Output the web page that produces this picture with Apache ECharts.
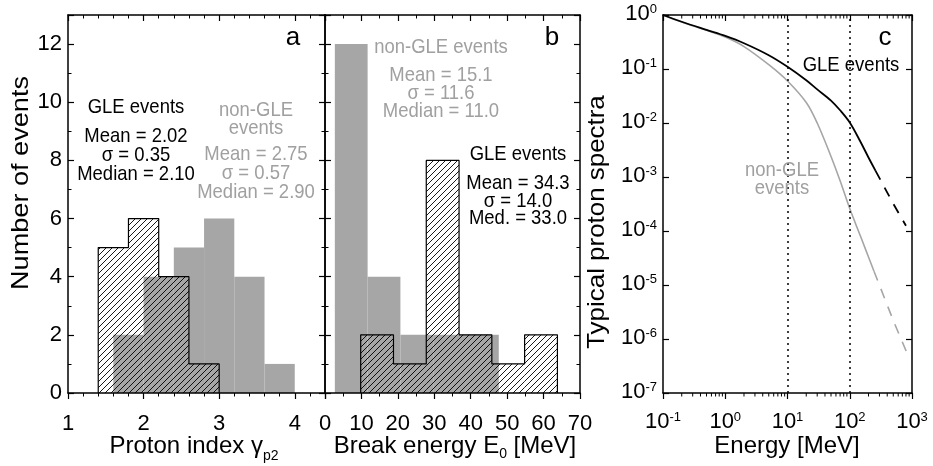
<!DOCTYPE html>
<html><head><meta charset="utf-8">
<script src="https://cdn.jsdelivr.net/npm/echarts@6/dist/echarts.min.js"></script>
<style>html,body{margin:0;padding:0;background:#fff}#c{width:933px;height:466px}</style>
</head><body><div id="c"></div>
<script>
// ---------- data ----------
// panel a: proton index histogram (bin edges + counts)
const aGleEdges = [1.4, 1.8, 2.2, 2.6, 3.0];
const aGleCounts = [5, 6, 4, 1];
const aNonEdges = [1.6, 2.0, 2.4, 2.8, 3.2, 3.6, 4.0, 4.4];
const aNonCounts = [2, 4, 5, 6, 4, 1, 0];
// panel b: break energy histogram
const bNonEdges = [2.7, 11.7, 20.7, 29.7, 38.7, 47.7];
const bNonCounts = [12, 4, 2, 2, 2];
const bGleEdges = [9.8, 18.8, 27.8, 36.8, 45.8, 54.8, 63.8];
const bGleCounts = [2, 1, 8, 2, 1, 2];
// panel c: typical spectra
const energyGle = [0.1, 0.2, 0.5, 1, 2, 5, 10, 20, 30, 50, 70, 100, 150, 200, 260];
const spectrumGle = [1.0, 0.75, 0.53, 0.41, 0.30, 0.18, 0.11, 0.062, 0.042, 0.026, 0.0172, 0.0102, 0.0044, 0.0023, 0.0013];
const energyGleExt = [260, 500, 800];
const spectrumGleExt = [0.0013, 0.00032, 0.000125];
const energyNon = [0.1, 0.2, 0.5, 1, 2, 5, 10, 20, 30, 50, 70, 100, 150, 200, 245];
const spectrumNon = [1.0, 0.74, 0.52, 0.39, 0.26, 0.12, 0.06, 0.024, 0.010, 0.0024, 0.00085, 0.00026, 0.000078, 0.000033, 0.000018];
const energyNonExt = [245, 500, 880];
const spectrumNonExt = [0.000018, 0.0000022, 0.00000047];
const markEnergies = [10, 100];
// axis tick labels
const aTickLabels = [1, 2, 3, 4];
const bTickLabels = [0, 10, 20, 30, 40, 50, 60, 70];
const countTickLabels = [0, 2, 4, 6, 8, 10, 12];

// ---------- helpers ----------
const FONT = 'Liberation Sans, Arial, sans-serif';
const GRAY = '#a6a6a6';
const GRAYTXT = '#a0a0a0';

function bins(edges, counts) { return counts.map((c, i) => [edges[i], edges[i + 1], c]); }
function outline(edges, counts) {
  const pts = [[edges[0], 0]];
  counts.forEach((c, i) => { pts.push([edges[i], c]); pts.push([edges[i + 1], c]); });
  pts.push([edges[edges.length - 1], 0]);
  return pts;
}
function pairs(xs, ys) { return xs.map((x, i) => [x, ys[i]]); }

function makeHatch() {
  const s = 6, c = document.createElement('canvas');
  c.width = s; c.height = s;
  const g = c.getContext('2d');
  g.strokeStyle = '#000'; g.lineWidth = 0.9;
  g.beginPath();
  g.moveTo(-1, 1); g.lineTo(1, -1);
  g.moveTo(0, s); g.lineTo(s, 0);
  g.moveTo(s - 1, s + 1); g.lineTo(s + 1, s - 1);
  g.stroke();
  return c;
}
const hatch = { image: makeHatch(), repeat: 'repeat' };

function rectRender(fill) {
  return function (params, api) {
    const p0 = api.coord([api.value(0), api.value(2)]);
    const p1 = api.coord([api.value(1), 0]);
    return { type: 'rect', shape: { x: p0[0], y: p0[1], width: p1[0] - p0[0], height: p1[1] - p0[1] },
      style: { fill: fill } };
  };
}

const axisLine = { show: true, onZero: false, lineStyle: { color: '#000', width: 1.5 } };
function valAxis(gi, pos, min, max, interval, minorSplit, showLabel, extra) {
  const inside = !(pos === 'bottom');
  return Object.assign({
    gridIndex: gi, position: pos, type: 'value', min: min, max: max, interval: interval, z: 10,
    axisLine: axisLine,
    axisTick: { show: true, inside: inside, length: 6, lineStyle: { color: '#000', width: 1.2 } },
    minorTick: { show: true, splitNumber: minorSplit, length: 3.5, lineStyle: { color: '#000', width: 1 } },
    splitLine: { show: false }, minorSplitLine: { show: false },
    axisLabel: { show: showLabel, color: '#000', fontSize: 22, fontFamily: FONT,
      margin: (pos === 'bottom') ? 20 : 6, showMaxLabel: false }
  }, extra || {});
}
const supRich = {
  b: { fontSize: 22, fontFamily: FONT, color: '#000', lineHeight: 24, verticalAlign: 'top' },
  s: { fontSize: 13, fontFamily: FONT, color: '#000', lineHeight: 13, verticalAlign: 'top' }
};
function logFmt(v) { return '{b|10}{s|' + Math.round(Math.log10(v)) + '}'; }
function logAxis(gi, pos, min, max, split, showLabel, isX) {
  return {
    gridIndex: gi, position: pos, type: 'log', logBase: 10, min: min, max: max, splitNumber: split, z: 10,
    axisLine: axisLine,
    axisTick: { show: true, inside: !(pos === 'bottom'), length: 6, lineStyle: { color: '#000', width: 1.2 } },
    minorTick: { show: false }, splitLine: { show: false },
    axisLabel: { show: showLabel, formatter: logFmt, rich: supRich, margin: isX ? 18 : 6 }
  };
}

// ---------- chart ----------
const chart = echarts.init(document.getElementById('c'), null, { renderer: 'canvas' });

const notes = [
  ['a', 293, 38, 26, '#000'],
  ['GLE events', 136, 107, 21, '#000'],
  ['Mean = 2.02', 136, 136, 21, '#000'],
  ['σ = 0.35', 136, 155, 21, '#000'],
  ['Median = 2.10', 136, 174, 21, '#000'],
  ['non-GLE', 256, 110, 21, GRAYTXT],
  ['events', 256, 128, 21, GRAYTXT],
  ['Mean = 2.75', 256, 154, 21, GRAYTXT],
  ['σ = 0.57', 256, 173, 21, GRAYTXT],
  ['Median = 2.90', 256, 192, 21, GRAYTXT],
  ['b', 552, 38, 26, '#000'],
  ['non-GLE events', 441, 47, 21, GRAYTXT],
  ['Mean = 15.1', 441, 75, 21, GRAYTXT],
  ['σ = 11.6', 441, 93, 21, GRAYTXT],
  ['Median = 11.0', 441, 111, 21, GRAYTXT],
  ['GLE events', 518, 154, 21, '#000'],
  ['Mean = 34.3', 518, 183, 21, '#000'],
  ['σ = 14.0', 518, 201, 21, '#000'],
  ['Med. = 33.0', 518, 218, 21, '#000'],
  ['c', 885, 38, 26, '#000'],
  ['GLE events', 851, 65, 21, '#000'],
  ['non-GLE', 782, 170, 21, GRAYTXT],
  ['events', 782, 188, 21, GRAYTXT]
];
const graphics = notes.map(n => ({
  type: 'text', x: n[1], y: n[2], z: 20, scaleX: n[3] === 21 ? 0.88 : 1,
  style: { text: n[0], fill: n[4], font: n[3] + 'px ' + FONT, align: 'center', verticalAlign: 'middle' }
}));
const titleRich = {
  t: { fontSize: 24, fontFamily: FONT, color: '#000', lineHeight: 26, verticalAlign: 'top' },
  s: { fontSize: 14, fontFamily: FONT, color: '#000', lineHeight: 14, verticalAlign: 'top', padding: [13, 0, 0, 0] },
  s2: { fontSize: 14, fontFamily: FONT, color: '#000', lineHeight: 14, verticalAlign: 'top', padding: [15, 0, 0, 0] }
};
function title(text, x, y, rot, sx) {
  return { type: 'text', x: x, y: y, rotation: rot || 0, scaleX: sx || 1, z: 20,
    style: { text: text, rich: titleRich, align: 'center', verticalAlign: 'middle', fill: '#000', font: '24px ' + FONT } };
}
graphics.push(title('{t|Proton index γ}{s2|p2}', 194, 447));
graphics.push(title('{t|Break energy E}{s|0}{t| [MeV]}', 455, 447));
graphics.push(title('{t|Energy [MeV]}', 787, 447));
graphics.push(title('{t|Number of events}', 22, 183, Math.PI / 2, 1.13));
graphics.push(title('{t|Typical proton spectra}', 598, 222, Math.PI / 2, 1.08));

const minorLogTicks = [];
for (let k = -1; k <= 2; k++) for (let m = 2; m <= 9; m++) minorLogTicks.push([m * Math.pow(10, k), 1]);

const option = {
  animation: false,
  backgroundColor: '#fff',
  grid: [
    { left: 68, right: 608, top: 15, bottom: 73 },
    { left: 325, right: 353, top: 15, bottom: 73 },
    { left: 663, right: 21, top: 15, bottom: 73 }
  ],
  xAxis: [
    valAxis(0, 'bottom', 1, 4.4, 1, 5, true),
    valAxis(0, 'top', 1, 4.4, 1, 5, false),
    valAxis(1, 'bottom', 0, 70, 10, 2, true, { axisLabel: { show: true, color: '#000', fontSize: 22, fontFamily: FONT, margin: 20 } }),
    valAxis(1, 'top', 0, 70, 10, 2, false),
    logAxis(2, 'bottom', 0.1, 1000, 4, true, true),
    logAxis(2, 'top', 0.1, 1000, 4, false, true)
  ],
  yAxis: [
    valAxis(0, 'left', 0, 13, 2, 2, true),
    valAxis(0, 'right', 0, 13, 2, 2, false),
    valAxis(1, 'left', 0, 13, 2, 2, false),
    valAxis(1, 'right', 0, 13, 2, 2, false),
    logAxis(2, 'left', 1e-7, 1, 7, true, false),
    logAxis(2, 'right', 1e-7, 1, 7, false, false)
  ],
  graphic: graphics,
  series: [
    { type: 'custom', xAxisIndex: 0, yAxisIndex: 0, z: 2, clip: true, renderItem: rectRender(GRAY),
      encode: { x: [0, 1], y: 2 }, data: bins(aNonEdges, aNonCounts) },
    { type: 'custom', xAxisIndex: 0, yAxisIndex: 0, z: 3, clip: true, renderItem: rectRender(hatch),
      encode: { x: [0, 1], y: 2 }, data: bins(aGleEdges, aGleCounts) },
    { type: 'line', xAxisIndex: 0, yAxisIndex: 0, z: 4, symbol: 'none', lineStyle: { color: '#000', width: 1.2 },
      data: outline(aGleEdges, aGleCounts) },
    { type: 'custom', xAxisIndex: 2, yAxisIndex: 2, z: 2, clip: true, renderItem: rectRender(GRAY),
      encode: { x: [0, 1], y: 2 }, data: bins(bNonEdges, bNonCounts) },
    { type: 'custom', xAxisIndex: 2, yAxisIndex: 2, z: 3, clip: true, renderItem: rectRender(hatch),
      encode: { x: [0, 1], y: 2 }, data: bins(bGleEdges, bGleCounts) },
    { type: 'line', xAxisIndex: 2, yAxisIndex: 2, z: 4, symbol: 'none', lineStyle: { color: '#000', width: 1.2 },
      data: outline(bGleEdges, bGleCounts) },
    { type: 'line', xAxisIndex: 4, yAxisIndex: 4, z: 4, symbol: 'none', smooth: 0.35,
      lineStyle: { color: GRAY, width: 1.6 }, data: pairs(energyNon, spectrumNon),
      markLine: { silent: true, symbol: 'none', label: { show: false },
        lineStyle: { color: '#000', type: [2, 4], width: 1.5 },
        data: markEnergies.map(e => ({ xAxis: e })) } },
    { type: 'line', xAxisIndex: 4, yAxisIndex: 4, z: 4, symbol: 'none',
      lineStyle: { color: GRAY, width: 1.6, type: [10, 9] }, data: pairs(energyNonExt, spectrumNonExt) },
    { type: 'line', xAxisIndex: 4, yAxisIndex: 4, z: 5, symbol: 'none', smooth: 0.35,
      lineStyle: { color: '#000', width: 1.8 }, data: pairs(energyGle, spectrumGle) },
    { type: 'line', xAxisIndex: 4, yAxisIndex: 4, z: 5, symbol: 'none',
      lineStyle: { color: '#000', width: 1.8, type: [10, 9] }, data: pairs(energyGleExt, spectrumGleExt) },
    { type: 'custom', xAxisIndex: 4, yAxisIndex: 4, z: 10, clip: false, data: minorLogTicks,
      renderItem: function (params, api) {
        const b = api.coord([api.value(0), 1e-7]);
        const t = api.coord([api.value(0), 1]);
        const st = { stroke: '#000', lineWidth: 1 };
        return { type: 'group', children: [
          { type: 'line', shape: { x1: b[0], y1: b[1], x2: b[0], y2: b[1] + 3.5 }, style: st },
          { type: 'line', shape: { x1: t[0], y1: t[1], x2: t[0], y2: t[1] + 3.5 }, style: st }
        ] };
      } }
  ]
};
chart.setOption(option);
</script>
</body></html>
